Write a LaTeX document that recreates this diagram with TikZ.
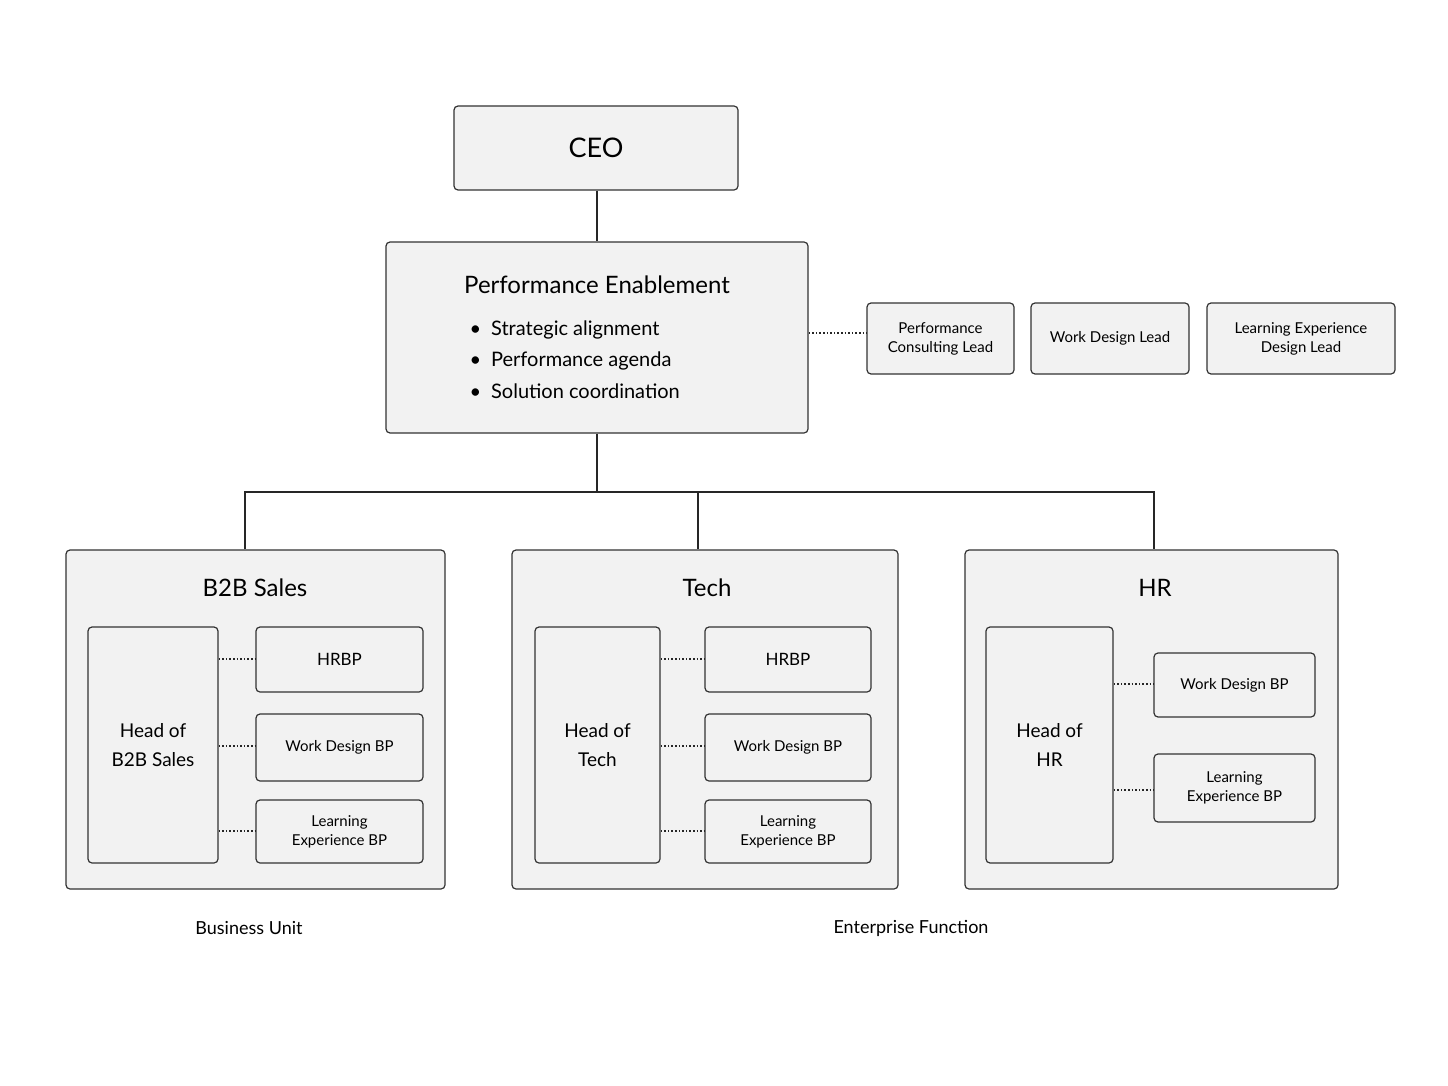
\documentclass[tikz,border=0pt]{standalone}
\usepackage{fontspec}
\setmainfont{Lato}
\begin{document}
\begin{tikzpicture}[x=1pt,y=-1pt,
  bx/.style={draw=black!80,line width=1.2pt,fill=black!5,rounded corners=4pt,inner sep=0pt},
  dot/.style={line width=1.6pt,dotted,black!85},
  ln/.style={line width=1.4pt,black!85},
  sm/.style={font=\fontsize{15}{19}\selectfont,align=center},
  hd/.style={font=\fontsize{19}{29}\selectfont,align=center},
  tt/.style={font=\fontsize{24}{28}\selectfont}]
\useasboundingbox (0,0) rectangle (1448,1086);
% CEO
\node[bx,minimum width=284pt,minimum height=84pt,font=\fontsize{27}{30}\selectfont] (ceo) at (596,148) {CEO};
% PE
\node[bx,minimum width=422pt,minimum height=191pt] (pe) at (597,337.5) {};
\node[tt] (pet) at (597,285) {Performance Enablement};
\foreach \y/\t [count=\i] in {330/Strategic alignment,361/Performance agenda,391/Solution coordination}
  \node[anchor=west,font=\fontsize{20}{24}\selectfont] (b\i) at (466,\y) {\textbullet\hspace{10pt}\t};
% right leads
\node[bx,minimum width=147pt,minimum height=71pt,sm] (pcl) at (940.5,338.5) {Performance\\Consulting Lead};
\node[bx,minimum width=158pt,minimum height=71pt,sm] (wdl) at (1110,338.5) {Work Design Lead};
\node[bx,minimum width=188pt,minimum height=71pt,sm] (lxd) at (1301,338.5) {Learning Experience\\Design Lead};
\draw[dot] (pe.east |- 0,333) -- (pcl.west |- 0,333);
% tree
\draw[ln] (ceo.south -| 597,0) -- (pe.north -| 597,0);
\coordinate (j) at (597,492);
\coordinate (jl) at (245,492);
\coordinate (jr) at (1154,492);
\coordinate (jm) at (698,492);
% containers
\node[bx,minimum width=379pt,minimum height=339pt] (c1) at (255.5,719.5) {};
\node[bx,minimum width=386pt,minimum height=339pt] (c2) at (705,719.5) {};
\node[bx,minimum width=373pt,minimum height=339pt] (c3) at (1151.5,719.5) {};
\draw[ln] (pe.south -| 597,0) -- (j);
\draw[ln] (jl |- c1.north) -- (jl) -- (jr) -- (jr |- c3.north);
\draw[ln] (jm) -- (jm |- c2.north);
\node[tt] (t1) at (255,588) {B2B Sales};
\node[tt] (t2) at (707,588) {Tech};
\node[tt] (t3) at (1155,588) {HR};
% B2B
\node[bx,minimum width=130pt,minimum height=236pt,hd] (h1) at (153,745) {Head of\\B2B Sales};
\node[bx,minimum width=167pt,minimum height=65pt,font=\fontsize{17}{20}\selectfont] (r11) at (339.5,659.5) {HRBP};
\node[bx,minimum width=167pt,minimum height=67pt,sm] (r12) at (339.5,747.5) {Work Design BP};
\node[bx,minimum width=167pt,minimum height=63pt,sm] (r13) at (339.5,831.5) {Learning\\Experience BP};
% Tech
\node[bx,minimum width=125pt,minimum height=236pt,hd] (h2) at (597.5,745) {Head of\\Tech};
\node[bx,minimum width=166pt,minimum height=65pt,font=\fontsize{17}{20}\selectfont] (r21) at (788,659.5) {HRBP};
\node[bx,minimum width=166pt,minimum height=67pt,sm] (r22) at (788,747.5) {Work Design BP};
\node[bx,minimum width=166pt,minimum height=63pt,sm] (r23) at (788,831.5) {Learning\\Experience BP};
% HR
\node[bx,minimum width=127pt,minimum height=236pt,hd] (h3) at (1049.5,745) {Head of\\HR};
\node[bx,minimum width=161pt,minimum height=64pt,sm] (r31) at (1234.5,685) {Work Design BP};
\node[bx,minimum width=161pt,minimum height=68pt,sm] (r32) at (1234.5,788) {Learning\\Experience BP};
% dotted links
\foreach \h/\r/\y in {h1/r11/659,h1/r12/746,h1/r13/831,h2/r21/659,h2/r22/746,h2/r23/831,h3/r31/684,h3/r32/790}
  \draw[dot] (\h.east |- 0,\y) -- (\r.west |- 0,\y);
% labels
\node[font=\fontsize{18}{22}\selectfont] (l1) at (249,928) {Business Unit};
\node[font=\fontsize{18}{22}\selectfont] (l2) at (911,928) {Enterprise Function};
\end{tikzpicture}
\end{document}
